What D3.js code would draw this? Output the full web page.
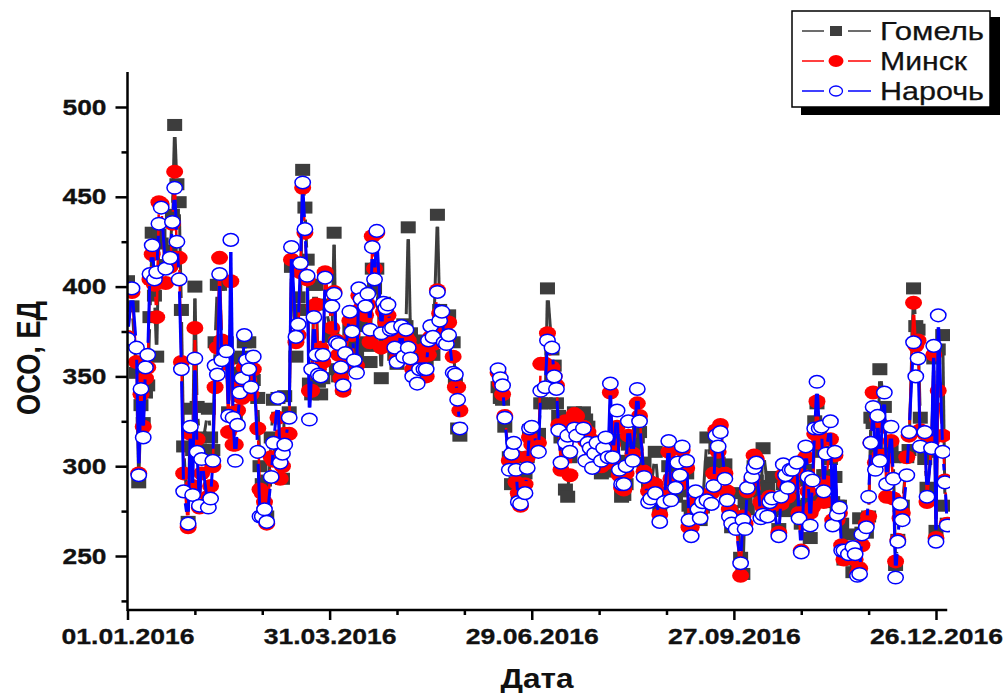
<!DOCTYPE html>
<html lang="ru">
<head>
  <meta charset="UTF-8" />
  <title>ОСО, ЕД</title>
  <script src="https://d3js.org/d3.v7.min.js"></script>
  <style>
    body { margin: 0; background: #fff; }
    svg { display: block; }
    text { font-family: "Liberation Sans", Arial, sans-serif; fill: #111; }
    .tick-label { font-size: 22px; font-weight: bold; stroke: #111; stroke-width: 0.3px; }
    .axis-title { font-weight: bold; }
    .legend-label { font-size: 25px; stroke: #111; stroke-width: 0.25px; }
  </style>
</head>
<body>
  <svg id="chart"></svg>
  <script>
    // days since 01.01.2016, gap in summer where nothing was measured
    const days = [
      0,2,4,5,6,7,8,9,10,11,
      12,13,14,15,17,19,20,21,22,23,
      24,25,27,28,29,30,31,32,33,36,
      37,38,39,40,41,42,44,45,46,47,
      48,49,50,51,52,53,54,55,56,58,
      59,60,61,62,64,65,67,68,69,70,
      72,73,75,76,77,78,79,80,81,82,
      83,84,85,86,87,88,91,92,93,94,
      95,96,97,99,100,101,102,103,104,106,
      107,108,109,110,111,113,114,115,116,117,
      118,119,120,122,123,124,125,126,127,129,
      130,132,133,134,135,136,138,139,140,141,
      142,143,145,146,147,148,165,166,167,168,
      170,171,172,173,174,175,177,178,179,180,
      183,184,186,187,189,190,191,192,193,195,
      196,197,199,200,203,204,205,206,207,208,
      209,211,212,213,214,215,216,218,219,220,
      221,222,223,225,227,228,230,232,233,235,
      237,239,241,242,244,245,246,247,249,250,
      251,253,254,255,256,258,260,261,262,263,
      264,266,267,268,269,271,273,274,275,276,
      278,279,280,282,283,285,286,287,290,291,
      292,293,294,295,296,298,299,300,302,303,
      304,305,306,307,308,309,310,311,313,314,
      315,316,317,318,319,321,323,324,325,326,
      327,329,330,331,332,333,334,335,337,338,
      340,341,342,343,344,345,347,348,350,351,
      352,353,355,356,358,359,360,361,363,364,365
    ];
    const gomel = [
      403,389,352,291,334,324,341,345,383,430,
      395,361,429,424,412,420,440,490,457,447,
      387,311,269,332,309,400,333,316,309,332,
      316,309,369,401,401,369,369,330,360,352,
      329,350,352,361,369,345,369,350,348,338,
      300,290,292,272,316,337,338,307,293,339,
      330,411,361,394,387,465,444,415,346,340,
      401,401,347,340,349,390,372,430,354,350,
      354,343,369,376,361,367,361,383,378,369,
      367,358,410,399,410,349,391,376,372,368,
      370,362,357,372,379,378,433,374,360,357,
      370,360,358,365,370,362,440,387,384,378,
      382,384,369,348,321,317,344,338,337,322,
      305,290,305,291,283,289,296,305,320,320,
      318,335,335,399,365,356,335,328,316,287,
      283,305,330,326,330,326,322,314,310,300,
      305,296,304,300,297,310,303,315,303,283,
      284,290,312,311,316,319,302,288,286,308,
      277,283,300,292,283,298,286,302,296,278,
      276,279,272,270,277,316,300,302,312,302,
      320,301,284,274,266,285,249,240,280,276,
      286,300,292,283,310,289,277,294,265,276,
      290,281,275,285,281,292,278,268,298,279,
      260,282,325,335,317,308,295,295,304,280,
      294,278,278,268,248,262,241,250,243,271,
      263,263,272,327,324,313,307,354,333,305,
      310,305,245,259,278,278,305,309,399,378,
      376,327,304,288,308,360,264,365,373,278,268
    ];
    const minsk = [
      372,397,358,296,340,322,349,355,404,418,
      401,383,447,446,402,411,435,464,416,416,
      358,296,266,318,289,377,315,277,296,283,
      289,300,344,366,416,370,357,319,403,312,
      312,331,344,338,355,352,348,340,354,321,
      287,285,280,268,305,303,327,293,300,318,
      318,415,369,373,408,455,430,404,342,342,
      389,390,354,366,358,408,377,397,370,362,
      349,342,358,381,373,355,356,395,388,384,
      390,369,428,410,430,366,386,380,384,372,
      374,368,360,375,364,372,370,366,354,352,
      358,365,350,362,372,368,398,385,382,374,
      370,380,361,344,344,331,352,346,340,328,
      303,303,306,291,285,278,290,305,316,312,
      313,357,357,374,355,350,345,323,298,325,
      318,295,329,328,322,314,319,315,308,312,
      310,300,305,309,302,341,312,322,295,288,
      287,296,317,307,335,328,297,286,291,290,
      273,285,308,293,291,293,290,309,299,266,
      266,280,280,275,283,280,285,296,320,308,
      323,296,286,276,270,268,239,272,268,286,
      292,306,304,280,277,276,283,278,263,279,
      295,290,283,294,289,296,274,253,305,286,
      274,277,318,336,313,315,280,291,315,270,
      306,270,274,256,248,253,249,248,240,243,
      256,268,272,313,341,302,326,306,322,283,
      314,282,247,259,271,274,305,317,391,367,
      370,320,318,280,314,362,260,342,317,292,268
    ];
    const naroch = [
      371,399,366,295,343,316,355,362,407,423,
      404,408,435,444,410,416,436,455,425,404,
      354,286,268,322,284,360,308,278,304,277,
      282,303,356,351,407,359,364,328,426,327,
      303,323,341,349,373,359,354,344,361,308,
      272,272,276,269,294,313,338,302,307,312,
      327,422,372,379,413,458,432,406,326,354,
      383,362,351,350,362,405,389,396,369,368,
      355,345,363,386,375,359,352,399,393,389,
      396,376,422,404,431,374,391,388,390,376,
      377,366,358,378,361,376,366,360,350,346,
      354,354,354,370,378,372,397,381,386,369,
      368,373,352,351,337,321,354,349,345,327,
      298,307,313,298,280,279,285,299,321,322,
      308,342,344,370,366,350,343,320,302,313,
      317,308,321,317,321,303,313,310,299,307,
      313,303,310,316,305,346,305,331,298,290,
      290,300,325,303,343,325,294,280,282,285,
      269,280,314,281,288,302,295,311,303,270,
      261,286,276,271,280,281,279,289,317,311,
      319,293,281,272,268,265,246,270,265,288,
      294,299,302,271,273,272,280,282,261,283,
      301,295,288,298,298,302,271,252,311,294,
      267,292,321,347,321,322,286,307,325,267,
      308,273,277,253,253,251,255,251,239,240,
      262,266,283,313,333,298,328,303,341,290,
      322,293,238,258,279,270,295,319,369,350,
      360,311,319,283,310,367,258,384,308,291,267
    ];

    const dateTicks = [0, 90, 180, 270, 360];
    const dateLabels = ["01.01.2016", "31.03.2016", "29.06.2016", "27.09.2016", "26.12.2016"];
    const minorDays = [30, 60, 120, 150, 210, 240, 300, 330];
    const valueTicks = [250, 300, 350, 400, 450, 500];
    const minorValues = [225, 275, 325, 375, 425, 475];

    const seriesNames = ["Гомель", "Минск", "Нарочь"];
    const seriesValues = [gomel, minsk, naroch];
    const seriesColors = ["#3d3d3d", "#ff0000", "#0000ff"];

    const width = 1008, height = 693;
    const svg = d3.select("#chart").attr("width", width).attr("height", height);

    const x = d3.scaleLinear().domain([0, 360]).range([127.5, 936]);
    const y = d3.scaleLinear().domain([250, 500]).range([556, 107]);
    const xEnd = x(365), yTop = 72, yBottom = 610;

    svg.append("defs").append("clipPath").attr("id", "plot-clip")
      .append("rect").attr("x", 128).attr("y", 60).attr("width", 822).attr("height", 550);

    const plot = svg.append("g").attr("clip-path", "url(#plot-clip)");

    // Origin style line: every segment stops short of the symbols
    function segments(values, gap) {
      const out = [];
      for (let i = 1; i < days.length; i++) {
        if (days[i] - days[i - 1] > 10) continue;
        const x0 = x(days[i - 1]), y0 = y(values[i - 1]);
        const x1 = x(days[i]), y1 = y(values[i]);
        const len = Math.hypot(x1 - x0, y1 - y0);
        if (len <= gap * 2) continue;
        const ux = (x1 - x0) / len, uy = (y1 - y0) / len;
        out.push([x0 + ux * gap, y0 + uy * gap, x1 - ux * gap, y1 - uy * gap]);
      }
      return out;
    }

    function drawSymbol(sel, i) {
      if (i === 0) {
        sel.append("rect").attr("x", d => d[0] - 7.5).attr("y", d => d[1] - 6)
          .attr("width", 15).attr("height", 12).attr("fill", seriesColors[0]);
      } else if (i === 1) {
        sel.append("ellipse").attr("cx", d => d[0]).attr("cy", d => d[1])
          .attr("rx", 8.5).attr("ry", 7).attr("fill", seriesColors[1]);
      } else {
        sel.append("ellipse").attr("cx", d => d[0]).attr("cy", d => d[1])
          .attr("rx", 7.7).attr("ry", 6.3).attr("fill", "#fff")
          .attr("stroke", seriesColors[2]).attr("stroke-width", 1.5);
      }
    }

    seriesValues.forEach((values, i) => {
      const g = plot.append("g");
      g.selectAll("line").data(segments(values, 12)).join("line")
        .attr("x1", d => d[0]).attr("y1", d => d[1])
        .attr("x2", d => d[2]).attr("y2", d => d[3])
        .attr("stroke", seriesColors[i])
        .attr("stroke-width", i === 1 ? 2.5 : 3);
      const pts = days.map((d, k) => [x(d), y(values[k])]);
      drawSymbol(g.selectAll("g").data(pts).join("g"), i);
    });

    // axes
    const xMajor = d3.axisBottom(x).tickValues(dateTicks).tickSize(10)
      .tickFormat((d, i) => dateLabels[i]);
    const xMinor = d3.axisBottom(x).tickValues(minorDays).tickSize(5).tickFormat("");
    const yMajor = d3.axisLeft(y).tickValues(valueTicks).tickSize(12).tickFormat(d3.format("d"));
    const yMinor = d3.axisLeft(y).tickValues(minorValues).tickSize(6).tickFormat("");

    function styleAxis(g) {
      g.select(".domain").remove();
      g.selectAll("line").attr("stroke", "#000").attr("stroke-width", 2.5);
    }

    const xAxis = svg.append("g").attr("transform", `translate(0,${yBottom})`);
    xAxis.append("g").call(xMinor).call(styleAxis);
    xAxis.append("g").call(xMajor).call(styleAxis);
    xAxis.selectAll("text").attr("class", "tick-label")
      .attr("y", 18).attr("dy", "0.71em").attr("fill", "#111")
      .attr("textLength", 133).attr("lengthAdjust", "spacingAndGlyphs");

    const yAxis = svg.append("g").attr("transform", "translate(127.5,0)");
    yAxis.append("g").call(yMinor).call(styleAxis);
    yAxis.append("g").call(yMajor).call(styleAxis);
    yAxis.selectAll("text").attr("class", "tick-label")
      .attr("x", -21).attr("fill", "#111")
      .attr("textLength", 44).attr("lengthAdjust", "spacingAndGlyphs");

    svg.append("line").attr("x1", 127.5).attr("x2", 127.5).attr("y1", yTop).attr("y2", yBottom + 1)
      .attr("stroke", "#000").attr("stroke-width", 2.5);
    svg.append("line").attr("x1", 127.5).attr("x2", xEnd).attr("y1", yBottom).attr("y2", yBottom)
      .attr("stroke", "#000").attr("stroke-width", 2.5);

    svg.append("text").attr("class", "axis-title")
      .attr("x", 537).attr("y", 688).attr("text-anchor", "middle")
      .attr("font-size", 27)
      .attr("textLength", 73).attr("lengthAdjust", "spacingAndGlyphs")
      .text("Дата");

    svg.append("text").attr("class", "axis-title")
      .attr("transform", "translate(39.5,358) rotate(-90)")
      .attr("text-anchor", "middle").attr("font-size", 33)
      .attr("textLength", 114).attr("lengthAdjust", "spacingAndGlyphs")
      .text("ОСО, ЕД");

    // legend with its drop shadow
    const legend = svg.append("g");
    legend.append("rect").attr("x", 801).attr("y", 17).attr("width", 199).attr("height", 98).attr("fill", "#000");
    legend.append("rect").attr("x", 792).attr("y", 11).attr("width", 198).attr("height", 96)
      .attr("fill", "#fff").attr("stroke", "#000").attr("stroke-width", 1.5);

    seriesNames.forEach((name, i) => {
      const ly = 31 + i * 30;
      [[802, 824], [848, 871]].forEach(s => {
        legend.append("line").attr("x1", s[0]).attr("x2", s[1]).attr("y1", ly).attr("y2", ly)
          .attr("stroke", seriesColors[i]).attr("stroke-width", 1.5);
      });
      const sym = legend.append("g").datum([836, ly]);
      if (i === 0) {
        sym.append("rect").attr("x", 830).attr("y", ly - 5).attr("width", 12).attr("height", 10).attr("fill", seriesColors[0]);
      } else if (i === 1) {
        sym.append("ellipse").attr("cx", 836).attr("cy", ly).attr("rx", 7.5).attr("ry", 6).attr("fill", seriesColors[1]);
      } else {
        sym.append("ellipse").attr("cx", 836).attr("cy", ly).attr("rx", 6.5).attr("ry", 5)
          .attr("fill", "#fff").attr("stroke", seriesColors[2]).attr("stroke-width", 1.3);
      }
      legend.append("text").attr("class", "legend-label")
        .attr("x", 880).attr("y", ly + 9)
        .attr("textLength", i === 1 ? 87 : 104).attr("lengthAdjust", "spacingAndGlyphs")
        .text(name);
    });
  </script>
</body>
</html>
